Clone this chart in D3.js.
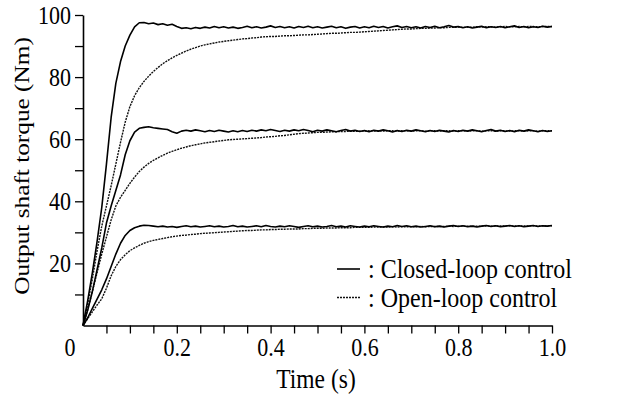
<!DOCTYPE html>
<html>
<head>
<meta charset="utf-8">
<script src="https://cdn.jsdelivr.net/npm/d3@7"></script>
<style>
  body { margin: 0; background: #fff; }
  svg { display: block; }
  text { font-family: "Liberation Serif", "Times New Roman", serif; fill: #000; }
</style>
</head>
<body>
<svg id="chart" width="639" height="396"></svg>
<script>
// Sample times (s), 10 ms apart
const timeS = [
  0.00,0.01,0.02,0.03,0.04,0.05,0.06,0.07,0.08,0.09,
  0.10,0.11,0.12,0.13,0.14,0.15,0.16,0.17,0.18,0.19,
  0.20,0.21,0.22,0.23,0.24,0.25,0.26,0.27,0.28,0.29,
  0.30,0.31,0.32,0.33,0.34,0.35,0.36,0.37,0.38,0.39,
  0.40,0.41,0.42,0.43,0.44,0.45,0.46,0.47,0.48,0.49,
  0.50,0.51,0.52,0.53,0.54,0.55,0.56,0.57,0.58,0.59,
  0.60,0.61,0.62,0.63,0.64,0.65,0.66,0.67,0.68,0.69,
  0.70,0.71,0.72,0.73,0.74,0.75,0.76,0.77,0.78,0.79,
  0.80,0.81,0.82,0.83,0.84,0.85,0.86,0.87,0.88,0.89,
  0.90,0.91,0.92,0.93,0.94,0.95,0.96,0.97,0.98,0.99,
  1.00
];

// Output shaft torque (Nm), closed-loop control, three set points
const closedHigh = [
  0,8,17,27,38,52,67,78,85,90,
  93.5,96.2,97.5,97.6,97.2,97.4,96.9,97.2,96.7,97.0,
  96.3,95.7,95.9,95.6,96.0,95.7,96.1,95.8,96.3,95.9,
  96.2,95.8,96.1,95.7,96.0,96.4,95.9,96.2,95.8,96.1,
  96.5,96.0,96.3,95.9,96.2,95.8,96.3,96.0,96.4,95.9,
  96.2,95.8,96.1,96.4,95.9,96.2,95.7,96.1,96.3,95.8,
  96.2,95.9,96.4,96.0,96.3,95.8,96.2,96.5,96.0,96.3,
  95.9,96.2,95.8,96.3,96.0,96.4,95.9,96.2,96.6,96.1,
  96.3,95.9,96.2,95.8,96.1,96.4,95.9,96.2,96.0,96.3,
  95.9,96.2,96.5,96.0,96.3,95.9,96.2,96.0,96.4,96.1,
  96.3
];
const closedMid = [
  0,5,11,18,25,33,38.5,43.5,48.5,55,
  59.5,62.3,63.5,63.8,64.0,63.7,63.5,63.3,63.1,62.4,
  61.9,62.6,62.9,62.6,63.0,62.7,62.4,62.8,62.5,62.9,
  62.6,62.3,62.7,62.4,62.8,62.5,62.9,62.6,63.0,62.7,
  63.1,62.8,62.5,62.9,62.6,63.0,62.7,63.1,62.8,62.4,
  62.9,62.6,63.0,62.7,62.4,62.8,63.1,62.6,62.9,62.5,
  62.8,62.4,62.9,62.6,63.0,62.7,62.3,62.8,62.5,62.9,
  62.6,63.0,62.7,62.4,62.8,62.5,62.9,62.6,62.3,62.8,
  62.5,62.9,62.6,63.0,62.7,62.4,62.8,63.1,62.6,62.9,
  62.5,62.8,62.4,62.9,62.6,63.0,62.7,62.4,62.8,62.5,
  62.7
];
const closedLow = [
  0,2.5,5.5,8.5,11.5,15.0,19.0,23.0,26.5,29.0,
  30.6,31.5,32.0,32.3,32.2,32.0,31.8,32.0,31.7,31.9,
  31.6,31.9,32.1,31.8,32.0,31.7,31.9,32.1,31.8,32.0,
  31.7,31.9,32.2,31.8,32.0,31.7,31.9,32.1,31.8,32.2,
  31.9,31.7,32.0,31.8,32.1,31.9,31.6,31.9,32.1,31.8,
  32.0,31.7,31.9,32.2,31.8,32.0,31.7,32.1,31.9,31.7,
  32.0,31.8,32.1,31.9,31.7,32.0,31.8,32.2,31.9,32.1,
  31.8,32.0,31.7,31.9,32.1,31.8,32.0,31.7,32.0,32.2,
  31.9,32.1,31.8,32.0,31.7,32.0,32.2,31.9,32.1,31.8,
  32.0,32.2,31.9,32.1,31.8,32.0,32.2,31.9,32.1,32.0,
  32.2
];

// Output shaft torque (Nm), open-loop control, same set points
const openHigh = [
  0,7,15,24,32,38.5,45,52,59,65.5,
  70.5,74.0,76.6,78.6,80.3,81.8,83.1,84.3,85.3,86.2,
  87.0,87.7,88.4,89.0,89.5,90.0,90.4,90.7,91.0,91.3,
  91.5,91.7,91.9,92.1,92.3,92.4,92.6,92.7,92.9,93.0,
  93.1,93.1,93.2,93.3,93.3,93.4,93.5,93.6,93.6,93.7,
  93.8,93.9,94.0,94.1,94.1,94.2,94.3,94.4,94.4,94.5,
  94.6,94.7,94.8,94.9,95.0,95.1,95.2,95.3,95.4,95.5,
  95.5,95.6,95.7,95.7,95.8,95.8,95.9,95.9,96.0,96.0,
  96.1,96.0,96.1,96.1,96.2,96.1,96.2,96.2,96.1,96.2,
  96.3,96.2,96.2,96.3,96.2,96.3,96.3,96.2,96.3,96.3,
  96.3
];
const openMid = [
  0,5,11,17,23,28.5,34,38.5,41.3,43.5,
  45.8,47.8,49.6,51.0,52.2,53.2,54.0,54.8,55.5,56.1,
  56.6,57.1,57.5,57.9,58.2,58.5,58.8,59.0,59.2,59.4,
  59.6,59.8,59.9,60.0,60.1,60.2,60.3,60.4,60.5,60.7,
  60.8,60.9,61.1,61.2,61.4,61.6,61.8,61.9,62.0,62.1,
  62.2,62.2,62.3,62.4,62.4,62.5,62.5,62.6,62.5,62.6,
  62.6,62.7,62.6,62.7,62.6,62.7,62.7,62.6,62.7,62.7,
  62.6,62.7,62.7,62.6,62.7,62.7,62.6,62.7,62.7,62.6,
  62.7,62.7,62.6,62.7,62.7,62.6,62.7,62.7,62.6,62.7,
  62.7,62.6,62.7,62.7,62.6,62.7,62.7,62.6,62.7,62.7,
  62.7
];
const openLow = [
  0,2.2,4.4,6.6,8.6,12.0,16.0,19.0,21.2,22.8,
  24.1,25.0,25.8,26.5,27.0,27.4,27.7,28.0,28.3,28.6,
  28.8,29.0,29.1,29.3,29.4,29.6,29.7,29.8,29.9,30.0,
  30.1,30.2,30.3,30.4,30.5,30.6,30.6,30.7,30.8,30.8,
  30.9,30.9,31.0,31.0,31.1,31.1,31.1,31.2,31.2,31.3,
  31.3,31.3,31.4,31.4,31.4,31.5,31.5,31.5,31.6,31.6,
  31.6,31.6,31.7,31.7,31.7,31.7,31.8,31.7,31.8,31.8,
  31.8,31.8,31.9,31.8,31.9,31.9,31.9,31.9,32.0,31.9,
  32.0,32.0,32.0,32.0,32.0,32.0,32.1,32.0,32.1,32.1,
  32.1,32.1,32.1,32.1,32.1,32.1,32.1,32.1,32.1,32.1,
  32.1
];

// Axis ticks
const xTicks = [0.05,0.1,0.15,0.2,0.25,0.3,0.35,0.4,0.45,0.5,0.55,0.6,0.65,0.7,0.75,0.8,0.85,0.9,0.95,1.0];
const xTickLabels = {0.2: "0.2", 0.4: "0.4", 0.6: "0.6", 0.8: "0.8", 1.0: "1.0"};
const yTicks = [10,20,30,40,50,60,70,80,90,100];
const yTickLabels = {20: "20", 40: "40", 60: "60", 80: "80", 100: "100"};

const legendItems = [
  {label: ": Closed-loop control", dashed: false},
  {label: ": Open-loop control", dashed: true}
];

const FONT = '"Liberation Serif", "Times New Roman", serif';
const svg = d3.select("#chart");
const x = d3.scaleLinear().domain([0, 1]).range([83, 552]);
const y = d3.scaleLinear().domain([0, 100]).range([325.5, 15]);
const stretch = 1.15;

const closedStyle = s => s.attr("fill", "none").attr("stroke", "#000").attr("stroke-width", 1.6).attr("stroke-linejoin", "round");
const openStyle = s => s.attr("fill", "none").attr("stroke", "#111").attr("stroke-width", 1.4).attr("stroke-dasharray", "2,1");

// Curves
const lineOf = vals => d3.line().x((d, i) => x(timeS[i])).y(d => y(d))(vals);
[openHigh, openMid, openLow].forEach(v => svg.append("path").attr("d", lineOf(v)).call(openStyle));
[closedHigh, closedMid, closedLow].forEach(v => svg.append("path").attr("d", lineOf(v)).call(closedStyle));

// X axis
const gx = svg.append("g").attr("transform", `translate(0,${y(0)})`)
  .call(d3.axisBottom(x).tickValues(xTicks).tickSize(8).tickSizeOuter(0)
    .tickFormat(d => xTickLabels[d] || ""));
gx.attr("font-family", FONT);
gx.select(".domain").attr("stroke-width", 1.6);
gx.selectAll(".tick line").attr("stroke-width", 1.3);
gx.selectAll(".tick text").attr("font-size", 22)
  .attr("y", 30.5 / stretch).attr("dy", null).attr("transform", `scale(1,${stretch})`);

// Y axis
const gy = svg.append("g").attr("transform", `translate(${x(0)},0)`)
  .call(d3.axisLeft(y).tickValues(yTicks).tickSize(8).tickSizeOuter(0)
    .tickFormat(d => yTickLabels[d] || ""));
gy.attr("font-family", FONT);
gy.select(".domain").attr("stroke-width", 1.6);
gy.selectAll(".tick line").attr("stroke-width", 1.3);
gy.selectAll(".tick text").attr("font-size", 22)
  .attr("x", -12).attr("transform", `scale(1,${stretch})`);

// Origin label
svg.append("text").attr("transform", `translate(70,${y(0) + 30.5}) scale(1,${stretch})`)
  .attr("font-family", FONT).attr("text-anchor", "middle").attr("font-size", 22).text("0");

// Axis titles
svg.append("text").attr("transform", `translate(316,388) scale(1,${stretch})`)
  .attr("font-family", FONT).attr("text-anchor", "middle").attr("font-size", 23.5).text("Time (s)");
svg.append("text").attr("transform", `translate(29,166) rotate(-90) scale(${stretch},1)`)
  .attr("font-family", FONT).attr("text-anchor", "middle").attr("font-size", 22).text("Output shaft torque (Nm)");

// Legend
const lg = svg.append("g");
legendItems.forEach((item, i) => {
  const cy = 269 + i * 28.5;
  const ln = lg.append("line").attr("x1", 337).attr("x2", 360).attr("y1", cy).attr("y2", cy);
  if (item.dashed) ln.call(openStyle); else ln.call(closedStyle);
  lg.append("text").attr("transform", `translate(368,${cy + 9}) scale(1,${stretch})`)
    .attr("font-family", FONT).attr("font-size", 24).text(item.label);
});
</script>
</body>
</html>
